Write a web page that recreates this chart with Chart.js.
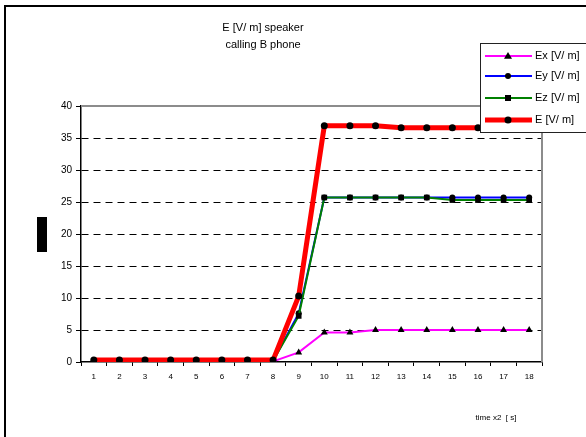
<!DOCTYPE html>
<html>
<head>
<meta charset="utf-8">
<script src="https://cdn.jsdelivr.net/npm/chart.js@4"></script>
<style>
html,body{margin:0;padding:0;background:#fff;}
canvas{display:block;}
</style>
</head>
<body>
<canvas id="c" width="586" height="437"></canvas>
<script>
const categories = ['1','2','3','4','5','6','7','8','9','10','11','12','13','14','15','16','17','18'];
const exValues = [0.1,0.1,0.1,0.1,0.1,0.1,0.1,0.1,1.5,4.6,4.6,5.0,5.0,5.0,5.0,5.0,5.0,5.0];
const eyValues = [0.2,0.2,0.2,0.2,0.2,0.2,0.2,0.2,7.6,25.7,25.7,25.7,25.7,25.7,25.7,25.7,25.7,25.7];
const ezValues = [0.2,0.2,0.2,0.2,0.2,0.2,0.2,0.2,7.2,25.7,25.7,25.7,25.7,25.7,25.3,25.3,25.3,25.3];
const eValues  = [0.3,0.3,0.3,0.3,0.3,0.3,0.3,0.3,10.3,36.9,36.9,36.9,36.6,36.6,36.6,36.6,36.6,36.6];
const seriesNames = ['Ex [V/ m]','Ey [V/ m]','Ez [V/ m]','E [V/ m]'];
const titleLines = ['E [V/ m] speaker','calling B phone'];
const xTitle = 'time x2  [ s]';
const yTicks = {min:0, max:40, step:5};

const FONT = "'Liberation Sans', Arial, sans-serif";

const decor = {
  id:'decor',
  beforeDraw(chart){
    const ctx = chart.ctx;
    ctx.save();
    ctx.fillStyle = '#fff';
    ctx.fillRect(0,0,chart.width,chart.height);
    ctx.restore();
  },
  afterDraw(chart){
    const ctx = chart.ctx;
    const a = chart.chartArea;
    ctx.save();
    // outer frame
    ctx.strokeStyle = '#000';
    ctx.lineWidth = 2;
    ctx.strokeRect(5, 6, 700, 600);
    // title
    ctx.fillStyle = '#000';
    ctx.font = '11px ' + FONT;
    ctx.textAlign = 'center';
    ctx.textBaseline = 'middle';
    ctx.fillText(titleLines[0], 263, 28);
    ctx.fillText(titleLines[1], 263, 45);
    // x title
    ctx.font = '8px ' + FONT;
    ctx.fillText(xTitle, 496, 418);
    // y title block (rendered as a dark block in the reference)
    ctx.fillStyle = '#000';
    ctx.fillRect(37, 217, 10, 35);
    // legend
    const lx = 480, ly = 43, lw = 106, lh = 89;
    ctx.fillStyle = '#fff';
    ctx.fillRect(lx, ly, lw, lh);
    ctx.strokeStyle = '#222';
    ctx.lineWidth = 1;
    ctx.strokeRect(lx + 0.5, ly + 0.5, lw, lh);
    const rows = [56, 76, 98, 120];
    chart.data.datasets.forEach((ds, i) => {
      const y = rows[i];
      ctx.strokeStyle = ds.borderColor;
      ctx.lineWidth = ds.borderWidth;
      ctx.beginPath();
      ctx.moveTo(485, y);
      ctx.lineTo(532, y);
      ctx.stroke();
      ctx.fillStyle = '#000';
      const cx = 508;
      const r = ds.pointRadius;
      if (ds.pointStyle === 'triangle') {
        ctx.beginPath();
        ctx.moveTo(cx, y - r);
        ctx.lineTo(cx + r, y + r * 0.7);
        ctx.lineTo(cx - r, y + r * 0.7);
        ctx.closePath();
        ctx.fill();
      } else if (ds.pointStyle === 'rect') {
        ctx.fillRect(cx - r * 0.75, y - r * 0.75, r * 1.5, r * 1.5);
      } else {
        ctx.beginPath();
        ctx.arc(cx, y, r, 0, Math.PI * 2);
        ctx.fill();
      }
      ctx.fillStyle = '#000';
      ctx.font = '11px ' + FONT;
      ctx.textAlign = 'left';
      ctx.textBaseline = 'middle';
      ctx.fillText(ds.label, 535, y);
    });
    ctx.restore();
  },
  beforeDatasetsDraw(chart){
    const ctx = chart.ctx;
    const a = chart.chartArea;
    ctx.save();
    ctx.strokeStyle = '#8c8c8c';
    ctx.lineWidth = 2;
    ctx.beginPath();
    ctx.moveTo(a.left, a.top);
    ctx.lineTo(a.right, a.top);
    ctx.lineTo(a.right, a.bottom);
    ctx.stroke();
    ctx.restore();
  }
};

new Chart(document.getElementById('c'), {
  type: 'line',
  data: {
    labels: categories,
    datasets: [
      {label: seriesNames[0], data: exValues, borderColor:'#ff00ff', backgroundColor:'#000', borderWidth:2,
       pointStyle:'triangle', pointRadius:4, pointBackgroundColor:'#000', pointBorderColor:'#000', pointBorderWidth:0, order:4, tension:0},
      {label: seriesNames[1], data: eyValues, borderColor:'#0000ff', backgroundColor:'#000', borderWidth:2,
       pointStyle:'circle', pointRadius:3, pointBackgroundColor:'#000', pointBorderColor:'#000', pointBorderWidth:0, order:3, tension:0},
      {label: seriesNames[2], data: ezValues, borderColor:'#008000', backgroundColor:'#000', borderWidth:2,
       pointStyle:'rect', pointRadius:4, pointBackgroundColor:'#000', pointBorderColor:'#000', pointBorderWidth:0, order:2, tension:0},
      {label: seriesNames[3], data: eValues, borderColor:'#ff0000', backgroundColor:'#000', borderWidth:5,
       pointStyle:'circle', pointRadius:3.5, pointBackgroundColor:'#000', pointBorderColor:'#000', pointBorderWidth:0, order:1, tension:0}
    ]
  },
  options: {
    responsive:false,
    animation:false,
    devicePixelRatio:1,
    layout:{padding:{left:0,right:44,top:106,bottom:0}},
    plugins:{legend:{display:false}, title:{display:false}, tooltip:{enabled:false}},
    scales:{
      x:{
        type:'category',
        offset:true,
        afterFit(s){ s.height = 75; },
        grid:{offset:true, drawOnChartArea:false, drawTicks:true, tickLength:4, tickColor:'#000', tickWidth:1},
        border:{display:true, color:'#000', width:1.5},
        ticks:{color:'#000', font:{family:FONT, size:8}, padding:6, maxRotation:0, autoSkip:false}
      },
      y:{
        min:yTicks.min, max:yTicks.max,
        afterFit(s){ s.width = 81; },
        ticks:{stepSize:yTicks.step, color:'#000', font:{family:FONT, size:10}, padding:4},
        grid:{
          drawOnChartArea:true, drawTicks:true, tickLength:5, tickColor:'#000', tickWidth:1, tickBorderDash:[],
          color:(c)=> (c.tick && (c.tick.value===40 || c.tick.value===0)) ? 'rgba(0,0,0,0)' : '#000',
          lineWidth:1
        },
        border:{display:true, color:'#000', width:1.5, dash:[7,5]}
      }
    }
  },
  plugins:[decor]
});
</script>
</body>
</html>
